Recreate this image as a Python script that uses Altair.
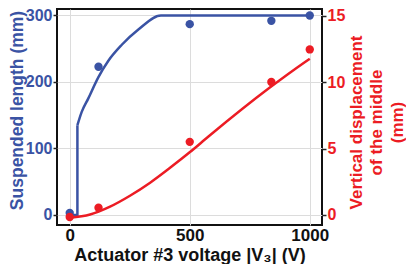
import altair as alt
import pandas as pd

BLUE = "#3a53a4"
RED = "#ec1c24"
FONT = "Liberation Sans"

# measured points
volt_pts = [0, 120, 500, 840, 1000]
length_pts = [3, 223, 287, 292, 300]
disp_pts = [-0.15, 0.55, 5.5, 10.0, 12.45]

# model curve: suspended length (step part, then rising part)
step_v = [0, 32, 32]
step_len = [0, 0, 135]
rise_v = [32, 50, 77, 119, 161, 217, 286, 380, 1000]
rise_len = [135, 155, 175, 207, 232, 256, 279, 300, 300]

# model curve: vertical displacement
fit_disp_v = [0, 85, 168, 251, 335, 418, 501, 578, 835, 976, 1000]
fit_disp = [-0.2, 0.04, 0.63, 1.45, 2.43, 3.55, 4.73, 5.9, 9.6, 11.45, 11.75]

pts = pd.DataFrame({"v": volt_pts, "len": length_pts, "disp": disp_pts})
step_df = pd.DataFrame({"v": step_v, "len": step_len, "i": list(range(len(step_v)))})
rise_df = pd.DataFrame({"v": rise_v, "len": rise_len})
disp_df = pd.DataFrame({"v": fit_disp_v, "disp": fit_disp})

W, H = 265, 216

xscale = alt.Scale(domain=[-53, 1051], nice=False, zero=False)
xaxis = alt.Axis(values=[0, 500, 1000], format="d", title="Actuator #3 voltage |V₃| (V)",
                 labelColor="#111", titleColor="#111", tickSize=0, labelPadding=2,
                 labelFontSize=17, titleFontSize=18,
                 grid=True, gridColor="#dcdcdc", gridWidth=1, domain=False,
                 titleX=W / 2, titleY=30, titleBaseline="middle")

yl_scale = alt.Scale(domain=[-15.04, 309.77], nice=False, zero=False)
yl_axis = alt.Axis(values=[0, 100, 200, 300], title="Suspended length (mm)",
                   labelColor=BLUE, titleColor=BLUE, tickSize=4, labelPadding=1,
                   labelFontSize=16, titleFontSize=17.5,
                   tickColor="#222", tickWidth=1.5,
                   grid=True, gridColor="#dcdcdc", gridWidth=1, domain=False,
                   titleAngle=270, titleX=-39.5, titleY=101, titleBaseline="middle")

yr_scale = alt.Scale(domain=[-0.752, 15.489], nice=False, zero=False)
yr_axis = alt.Axis(values=[0, 5, 10, 15], orient="right",
                   title=["Vertical displacement", "of the middle", "(mm)"],
                   labelColor=RED, titleColor=RED, tickSize=4, labelPadding=1,
                   labelFontSize=16, titleFontSize=17,
                   tickColor="#222", tickWidth=1.5, grid=False, domain=False,
                   titleAngle=270, titleX=34, titleY=113, titleBaseline="middle",
                   titleLineHeight=20.5)

X = alt.X("v:Q", scale=xscale, axis=xaxis)
YL = alt.Y("len:Q", scale=yl_scale, axis=yl_axis)
YR = alt.Y("disp:Q", scale=yr_scale, axis=yr_axis)

blue_step = alt.Chart(step_df).mark_line(color=BLUE, strokeWidth=2.5).encode(
    x=X, y=YL, order="i:Q")
blue_rise = alt.Chart(rise_df).mark_line(color=BLUE, strokeWidth=2.5, interpolate="monotone").encode(
    x=X, y=YL)
blue_pts = alt.Chart(pts).mark_circle(color=BLUE, size=70, opacity=1).encode(x=X, y=YL)
red_line = alt.Chart(disp_df).mark_line(color=RED, strokeWidth=2.5, interpolate="monotone").encode(
    x=X, y=YR)
red_pts = alt.Chart(pts).mark_circle(color=RED, size=70, opacity=1).encode(x=X, y=YR)

left = alt.layer(blue_step, blue_rise, blue_pts)
right = alt.layer(red_line, red_pts)

chart = alt.layer(left, right).resolve_scale(y="independent").properties(
    width=W, height=H,
    background="white",
    autosize=alt.AutoSizeParams(type="none"),
    padding={"left": 49, "top": 1, "right": 84, "bottom": 39},
).configure_view(
    stroke="#111", strokeWidth=2
).configure_axis(
    labelFont=FONT, titleFont=FONT,
    labelFontWeight="bold", titleFontWeight="bold",
)

chart.save("out.html", embed_options={"renderer": "svg", "actions": False})
